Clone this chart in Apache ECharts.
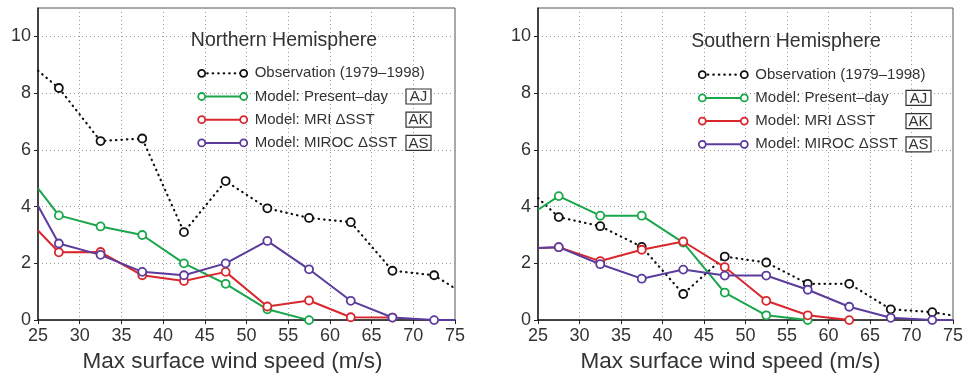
<!DOCTYPE html>
<html>
<head>
<meta charset="utf-8">
<script src="https://cdn.jsdelivr.net/npm/echarts@6/dist/echarts.min.js"></script>
<style>
  html, body { margin: 0; padding: 0; background: #fff; }
  #chart { width: 966px; height: 378px; }
</style>
</head>
<body>
<div id="chart"></div>
<script>
// bin centres (m/s); edge values are where each curve meets the frame at 25 / 75
const binCenters = [27.5, 32.5, 37.5, 42.5, 47.5, 52.5, 57.5, 62.5, 67.5, 72.5];
const xTicks = [25, 30, 35, 40, 45, 50, 55, 60, 65, 70, 75];
const yTicks = [0, 2, 4, 6, 8, 10];

// Northern Hemisphere
const obsNH = [8.18, 6.31, 6.40, 3.10, 4.90, 3.94, 3.60, 3.45, 1.74, 1.58];
const obsNHEdge = [8.79, 1.12];
const presentNH = [3.69, 3.30, 3.00, 2.00, 1.28, 0.38, 0.00, null, null, null];
const presentNHEdge = [4.64, null];
const mriNH = [2.39, 2.40, 1.58, 1.38, 1.70, 0.48, 0.69, 0.10, 0.09, null];
const mriNHEdge = [3.16, null];
const mirocNH = [2.70, 2.30, 1.70, 1.58, 2.00, 2.79, 1.79, 0.68, 0.09, 0.00];
const mirocNHEdge = [4.03, 0.00];

// Southern Hemisphere
const obsSH = [3.63, 3.31, 2.58, 0.92, 2.24, 2.03, 1.28, 1.28, 0.38, 0.28];
const obsSHEdge = [4.30, 0.16];
const presentSH = [4.37, 3.68, 3.68, 2.73, 0.97, 0.17, 0.00, null, null, null];
const presentSHEdge = [3.89, null];
const mriSH = [2.57, 2.08, 2.48, 2.77, 1.87, 0.68, 0.17, 0.00, null, null];
const mriSHEdge = [2.54, null];
const mirocSH = [2.57, 1.97, 1.46, 1.78, 1.57, 1.57, 1.07, 0.47, 0.08, 0.00];
const mirocSHEdge = [2.54, 0.00];

const legendNames = [
  "Observation (1979\u20131998)",
  "Model: Present\u2013day",
  "Model: MRI \u0394SST",
  "Model: MIROC \u0394SST",
];
const legendTags = [null, "AJ", "AK", "AS"];
const panelTitles = ["Northern Hemisphere", "Southern Hemisphere"];

const colors = ["#111111", "#1aa64b", "#d8282e", "#5b3c9c"];
const FONT = "Liberation Sans";
const TEXT = "#333333";

const chart = echarts.init(document.getElementById("chart"));

// build [x, y] pairs, edge points carry no marker
function toPoints(values, edge) {
  const pts = [];
  if (edge[0] != null) pts.push({ value: [25, edge[0]], symbol: "none" });
  values.forEach((v, i) => {
    if (v != null) pts.push({ value: [binCenters[i], v] });
  });
  if (edge[1] != null) pts.push({ value: [75, edge[1]], symbol: "none" });
  return pts;
}

const panels = [
  { left: 38, width: 417, data: [[obsNH, obsNHEdge], [presentNH, presentNHEdge], [mriNH, mriNHEdge], [mirocNH, mirocNHEdge]],
    titleX: 279, titleY: 37, legX: 201.7, legY: 73.3, tagX: 406, nameShift: 28 },
  { left: 538, width: 418, data: [[obsSH, obsSHEdge], [presentSH, presentSHEdge], [mriSH, mriSHEdge], [mirocSH, mirocSHEdge]],
    titleX: 781, titleY: 38, legX: 702.3, legY: 74.7, tagX: 906, nameShift: 30 },
];

const grids = [], xAxes = [], yAxes = [], series = [], graphics = [], titles = [];

panels.forEach((p, pi) => {
  grids.push({
    left: p.left, width: p.width, top: 8, bottom: 52,
    show: true, borderColor: "#555", borderWidth: 1,
  });
  xAxes.push({
    type: "value", gridIndex: pi, min: 25, max: 75, interval: 5,
    name: "Max surface wind speed (m/s)", nameLocation: "middle", nameGap: 25,
    nameTextStyle: { fontFamily: FONT, fontSize: 22.5, color: TEXT, padding: [0, p.nameShift, 0, 0] },
    axisLine: { lineStyle: { color: "#222", width: 1.5 } },
    axisTick: { show: true, length: 4, lineStyle: { color: "#222" } },
    axisLabel: { fontFamily: FONT, fontSize: 18, color: TEXT, margin: 7,
      formatter: (v) => (xTicks.includes(v) ? String(v) : "") },
    splitLine: { show: true, showMinLine: false, showMaxLine: false,
      lineStyle: { color: "#9a9a9a", type: [1, 3], width: 1 } },
  });
  yAxes.push({
    type: "value", gridIndex: pi, min: 0, max: 11, interval: 2,
    axisLine: { show: true, lineStyle: { color: "#222", width: 1.5 } },
    axisTick: { show: true, length: 4, lineStyle: { color: "#222" } },
    axisLabel: { fontFamily: FONT, fontSize: 18, color: TEXT, margin: 7, showMaxLabel: false,
      formatter: (v) => (yTicks.includes(v) ? String(v) : "") },
    splitLine: { show: true, showMinLine: false, showMaxLine: false,
      lineStyle: { color: "#9a9a9a", type: [1, 3], width: 1 } },
  });

  p.data.forEach(([vals, edge], si) => {
    const dotted = si === 0;
    series.push({
      type: "line", xAxisIndex: pi, yAxisIndex: pi,
      data: toPoints(vals, edge),
      symbol: "circle", symbolSize: 8, showAllSymbol: true,
      itemStyle: { color: "#fff", borderColor: colors[si], borderWidth: 1.8 },
      lineStyle: dotted
        ? { color: colors[si], width: 2.2, type: [0.5, 5], cap: "round" }
        : { color: colors[si], width: 2 },
      emphasis: { disabled: true },
      z: 2 + si, clip: true, animation: false,
    });
  });

  titles.push({
    text: panelTitles[pi], left: p.titleX, top: p.titleY - 11, textAlign: "center",
    textStyle: { fontFamily: FONT, fontSize: 19.5, fontWeight: "normal", color: TEXT },
  });

  // legend drawn by hand: line between two hollow circles, label, boxed tag
  legendNames.forEach((name, i) => {
    const y = p.legY + i * 23.2;
    const x1 = p.legX, x2 = p.legX + 42;
    graphics.push({
      type: "line", shape: { x1: x1, y1: y, x2: x2, y2: y }, z: 10,
      style: i === 0
        ? { stroke: colors[i], lineWidth: 2.2, lineDash: [0.5, 5], lineCap: "round" }
        : { stroke: colors[i], lineWidth: 2 },
    });
    [x1, x2].forEach((cx) => graphics.push({
      type: "circle", shape: { cx: cx, cy: y, r: 3.5 }, z: 11,
      style: { fill: "#fff", stroke: colors[i], lineWidth: 1.8 },
    }));
    graphics.push({
      type: "text", x: p.legX + 53, y: y, z: 11,
      style: { text: name, font: "15px '" + FONT + "'", fill: TEXT, verticalAlign: "middle" },
    });
    if (legendTags[i]) {
      graphics.push({
        type: "rect", shape: { x: p.tagX, y: y - 7.5, width: 25, height: 15 }, z: 11,
        style: { fill: "#fff", stroke: "#333", lineWidth: 1.2 },
      });
      graphics.push({
        type: "text", x: p.tagX + 12.5, y: y + 0.5, z: 12,
        style: { text: legendTags[i], font: "15px '" + FONT + "'", fill: TEXT,
          align: "center", verticalAlign: "middle" },
      });
    }
  });
});

chart.setOption({
  animation: false,
  title: titles,
  grid: grids,
  xAxis: xAxes,
  yAxis: yAxes,
  series: series,
  graphic: graphics,
});
</script>
</body>
</html>
